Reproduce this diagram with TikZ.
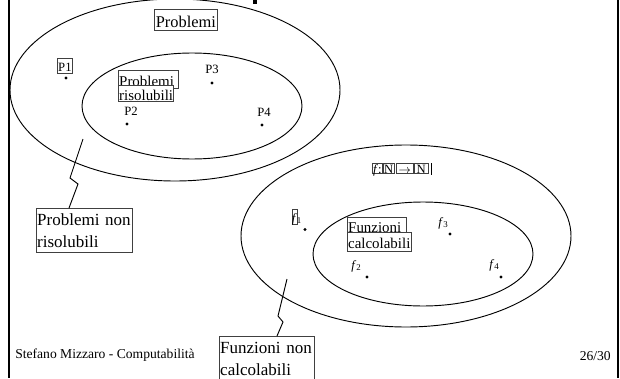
\documentclass[tikz,border=0pt]{standalone}
\usepackage{fontspec}
\setmainfont{Liberation Serif}
\usetikzlibrary{calc}
\begin{document}
\begin{tikzpicture}[x=0.75pt,y=-0.75pt,
  set/.style={draw=black, line width=0.7pt},
  frameline/.style={line width=1.5pt},
  tag/.style={draw=black!75, line width=0.6pt, fill=white, inner sep=0pt, inner xsep=0.6pt},
  lbl/.style={inner sep=0pt, anchor=base west},
  elem/.style={circle, fill=black, inner sep=0pt, minimum size=2.4pt},
  bolt/.style={draw=black, line width=0.7pt, line join=miter},
  big/.style={font=\fontsize{12.75}{16.5}\selectfont},
  mid/.style={font=\fontsize{11.2}{13}\selectfont},
  small/.style={font=\fontsize{9.5}{11}\selectfont},
  foot/.style={font=\fontsize{10.2}{12}\selectfont, inner sep=0pt}]
\useasboundingbox (0,0) rectangle (620,378);
\clip (0,0) rectangle (620,378);

% slide frame
\draw[frameline] (9,0) -- (9,378);
\draw[frameline] (617.7,0) -- (617.7,378);
\fill (253,0) rectangle (257,4);

% sets of problems
\draw[set] (175,90) ellipse [x radius=123.75pt, y radius=68.25pt];
\draw[set] (192,106) ellipse [x radius=82.5pt, y radius=39.75pt];

% sets of functions
\draw[set] (406,236) ellipse [x radius=123.75pt, y radius=68.25pt];
\draw[set] (423,254) ellipse [x radius=82.5pt, y radius=39pt];

% set titles
\node[tag, anchor=north west, font=\fontsize{12.3}{14}\selectfont,
      minimum width=47.25pt, text height=13.5pt, text depth=2.25pt] (problemi) at (154,9) {Problemi};
\node[tag, mid, anchor=north west, text width=43.8pt, align=left,
      text height=12pt, text depth=1.5pt] (risA) at (118,70) {Problemi};
\node[tag, mid, anchor=north west, text width=40pt, align=left,
      text height=11.25pt, text depth=0.75pt] (risB) at (118,85) {risolubili};

% f : N -> N
\node[tag, small, anchor=north west, minimum width=7.5pt, text height=7.5pt, text depth=0pt] (fdom) at (372,163) {\textit{f}:};
\node[tag, small, anchor=north west, minimum width=8.25pt, text height=7.5pt, text depth=0pt] (nA) at (fdom.north east) {N};
\node[tag, small, anchor=north west, minimum width=12.75pt, text height=7.5pt, text depth=0pt] (arr) at (396,163) {$\rightarrow$};
\node[tag, small, anchor=north west, minimum width=10.5pt, text height=7.5pt, text depth=0pt] (nB) at (arr.north east) {N};
\draw[line width=1pt] (nB.north east) ++(3,0) coordinate (barTop) -- ++(0,12) coordinate (barBot);

\node[tag, mid, anchor=north west, text width=43pt, align=left,
      text height=11.25pt, text depth=0.75pt] (calcA) at (347,217) {Funzioni};
\node[tag, mid, anchor=north west, text width=46.8pt, align=left,
      text height=12pt, text depth=2.25pt] (calcB) at (347,232) {calcolabili};

% problems
\node[tag, small, anchor=north west, minimum width=11.25pt,
      text height=9.5pt, text depth=1.7pt] (p1) at (57,58) {P1};
\node[elem] (d1) at (66,78) {};
\node[lbl, small] (p2) at (124,115) {P2};
\node[elem] (d2) at (127,124) {};
\node[lbl, small] (p3) at (205,74) {P3};
\node[elem] (d3) at (212,83) {};
\node[lbl, small] (p4) at (257,116.5) {P4};
\node[elem] (d4) at (262,125) {};

% functions
\node[draw=black!75, line width=0.5pt, inner sep=0pt, minimum width=3.75pt, minimum height=11.25pt] (f1frame) at (294.5,216.5) {};
\node[lbl, small] (f1) at (291.5,222) {\textit{f}\textsubscript{1}};
\node[elem] (e1) at (305,229.5) {};
\node[lbl, small] (f2) at (351,269) {\textit{f}\textsubscript{2}};
\node[elem] (e2) at (367,277) {};
\node[lbl, small] (f3) at (438,226) {\textit{f}\textsubscript{3}};
\node[elem] (e3) at (450,234) {};
\node[lbl, small] (f4) at (489,268) {\textit{f}\textsubscript{4}};
\node[elem] (e4) at (501,277) {};

% callouts for the complements
\node[tag, big, anchor=north west, text width=70.8pt, align=left,
      text height=12.75pt, text depth=20.25pt] (pnr) at (36,208) {Problemi non\\risolubili};
\node[tag, big, anchor=north west, text width=70pt, align=left,
      text height=12.75pt, text depth=21pt] (fnc) at (219,336) {Funzioni non\\calcolabili};

\coordinate (bA) at (83,139);
\coordinate (bA1) at (70,178);
\coordinate (bA2) at (78,184);
\coordinate (bAend) at (69,208);
\draw[bolt] (bA) -- (bA1) -- (bA2) -- (bAend |- pnr.north);

\coordinate (bB) at (287,279);
\coordinate (bB1) at (278,316);
\coordinate (bB2) at (283,322);
\coordinate (bBend) at (277,336);
\draw[bolt] (bB) -- (bB1) -- (bB2) -- (bBend |- fnc.north);

% footer
\node[foot, anchor=base west] (author) at (15,358) {Stefano Mizzaro - Computabilità};
\node[foot, anchor=base east] (page) at (611,360) {26/30};
\end{tikzpicture}
\end{document}
